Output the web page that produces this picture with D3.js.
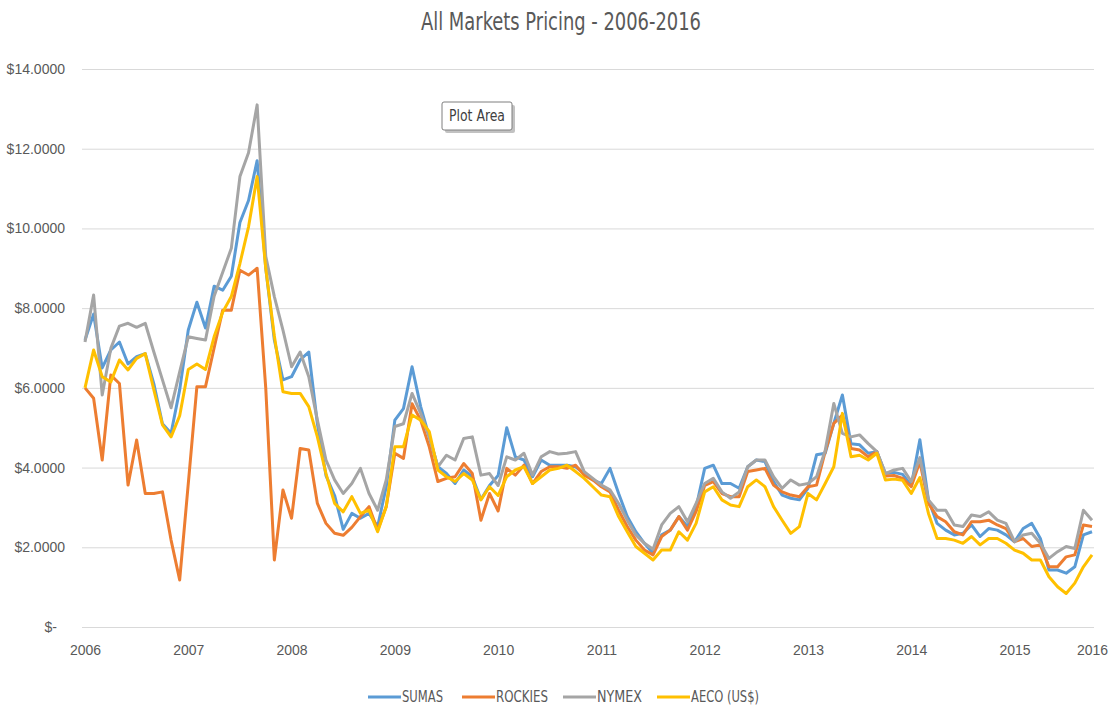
<!DOCTYPE html>
<html>
<head>
<meta charset="utf-8">
<script src="https://cdn.jsdelivr.net/npm/d3@7"></script>
<style>
  body { margin: 0; background: #fff; }
  svg { display: block; font-family: "DejaVu Sans Condensed", "Liberation Sans Narrow", sans-serif; font-stretch: condensed; }
  .grid line { stroke: #d9d9d9; stroke-width: 1; }
  .grid .domain { display: none; }
  .xaxis .domain, .xaxis line { display: none; }
  .tick text { fill: #595959; font-size: 14px; }
</style>
</head>
<body>
<svg id="pricingChart" width="1111" height="711"></svg>
<script>
// monthly prices, Jan 2006 onwards (118 points)
const sumas = [7.2, 7.85, 6.5, 6.95, 7.15, 6.6, 6.78, 6.86, 6.1, 5.1, 4.86, 5.95,
  7.45, 8.15, 7.5, 8.55, 8.45, 8.8, 10.15, 10.7, 11.7, 9.0, 7.2, 6.2,
  6.28, 6.7, 6.9, 5.1, 3.8, 3.3, 2.45, 2.85, 2.73, 2.85, 2.52, 3.52,
  5.19, 5.48, 6.53, 5.53, 4.77, 4.02, 3.85, 3.6, 3.94, 3.77, 3.2, 3.55,
  3.8, 5.0, 4.27, 4.19, 3.77, 4.19, 4.06, 4.06, 4.06, 4.02, 3.85, 3.69,
  3.6, 3.98, 3.35, 2.77, 2.39, 2.1, 1.85, 2.31, 2.43, 2.77, 2.52, 3.0,
  3.98, 4.06, 3.6, 3.6, 3.48, 4.02, 4.19, 4.15, 3.65, 3.31, 3.23, 3.19,
  3.48, 4.32, 4.36, 5.11, 5.82, 4.6, 4.57, 4.36, 4.4, 3.85, 3.88, 3.83,
  3.55, 4.7, 3.19, 2.6, 2.43, 2.31, 2.35, 2.56, 2.27, 2.47, 2.43, 2.31,
  2.14, 2.47, 2.6, 2.22, 1.43, 1.43, 1.35, 1.51, 2.31, 2.39];

const rockies = [6.0, 5.74, 4.19, 6.32, 6.11, 3.56, 4.69, 3.35, 3.35, 3.39, 2.18, 1.18,
  3.6, 6.03, 6.03, 7.0, 7.95, 7.95, 8.95, 8.83, 9.0, 6.0, 1.68, 3.44,
  2.73, 4.48, 4.44, 3.1, 2.6, 2.35, 2.3, 2.5, 2.77, 3.02, 2.43, 3.02,
  4.36, 4.23, 5.6, 5.19, 4.52, 3.65, 3.73, 3.77, 4.1, 3.85, 2.68, 3.35,
  2.91, 3.98, 3.81, 4.06, 3.6, 3.9, 4.02, 4.02, 3.98, 4.06, 3.81, 3.69,
  3.52, 3.39, 2.93, 2.52, 2.18, 1.93, 1.81, 2.27, 2.43, 2.77, 2.43, 2.9,
  3.55, 3.65, 3.35, 3.27, 3.27, 3.9, 3.94, 3.98, 3.56, 3.39, 3.31, 3.27,
  3.52, 3.56, 4.4, 5.11, 5.32, 4.48, 4.44, 4.27, 4.4, 3.79, 3.8, 3.73,
  3.52, 4.15, 3.1, 2.77, 2.64, 2.39, 2.31, 2.64, 2.64, 2.68, 2.56, 2.47,
  2.14, 2.22, 2.02, 2.06, 1.51, 1.51, 1.76, 1.81, 2.56, 2.52];

const nymex = [7.15, 8.33, 5.82, 6.99, 7.55, 7.62, 7.52, 7.62, 6.9, 6.2, 5.5, 6.4,
  7.28, 7.24, 7.2, 8.3, 8.9, 9.5, 11.3, 11.9, 13.1, 9.3, 8.29, 7.45,
  6.53, 6.9, 6.28, 5.19, 4.19, 3.69, 3.35, 3.6, 3.98, 3.35, 2.93, 3.69,
  5.03, 5.1, 5.86, 5.36, 4.77, 4.02, 4.31, 4.19, 4.73, 4.77, 3.81, 3.85,
  3.55, 4.27, 4.19, 4.36, 3.81, 4.27, 4.4, 4.34, 4.36, 4.4, 3.9, 3.73,
  3.56, 3.44, 3.1, 2.68, 2.31, 2.1, 1.95, 2.56, 2.85, 3.02, 2.64, 3.1,
  3.6, 3.73, 3.39, 3.23, 3.39, 4.02, 4.19, 4.19, 3.77, 3.48, 3.69, 3.56,
  3.6, 3.77, 4.43, 5.61, 4.86, 4.77, 4.82, 4.6, 4.4, 3.85, 3.94, 3.98,
  3.65, 4.25, 3.19, 2.93, 2.93, 2.56, 2.52, 2.81, 2.77, 2.89, 2.68, 2.6,
  2.14, 2.31, 2.35, 2.1, 1.72, 1.89, 2.02, 1.97, 2.93, 2.68];

const aeco = [6.0, 6.95, 6.28, 6.15, 6.7, 6.45, 6.74, 6.86, 5.95, 5.07, 4.77, 5.3,
  6.46, 6.6, 6.46, 7.28, 7.9, 8.29, 9.12, 10.04, 11.3, 9.0, 7.3, 5.9,
  5.86, 5.86, 5.53, 4.77, 3.85, 3.1, 2.89, 3.27, 2.85, 2.93, 2.39, 3.02,
  4.52, 4.52, 5.32, 5.19, 4.9, 3.94, 3.77, 3.65, 3.85, 3.69, 3.19, 3.52,
  3.3, 3.77, 3.94, 4.02, 3.6, 3.77, 3.94, 3.98, 4.06, 3.9, 3.73, 3.52,
  3.31, 3.27, 2.77, 2.39, 2.02, 1.85, 1.68, 1.93, 1.93, 2.39, 2.18, 2.6,
  3.39, 3.52, 3.19, 3.06, 3.02, 3.52, 3.69, 3.52, 3.02, 2.68, 2.35, 2.52,
  3.35, 3.19, 3.6, 4.02, 5.36, 4.27, 4.31, 4.19, 4.36, 3.69, 3.71, 3.68,
  3.35, 3.75, 2.85, 2.22, 2.22, 2.18, 2.1, 2.27, 2.06, 2.22, 2.22, 2.1,
  1.93, 1.85, 1.68, 1.68, 1.26, 1.01, 0.84, 1.1, 1.51, 1.81];

const seriesNames = ["SUMAS", "ROCKIES", "NYMEX", "AECO (US$)"];
const seriesColors = ["#5b9bd5", "#ed7d31", "#a5a5a5", "#ffc000"];
const yearLabels = ["2006", "2007", "2008", "2009", "2010", "2011", "2012", "2013", "2014", "2015", "2016"];
const yearTickIdx = [0, 12, 24, 36, 48, 60, 72, 84, 96, 108, 117];
const yTicks = [0, 2, 4, 6, 8, 10, 12, 14];

document.addEventListener("DOMContentLoaded", () => {
    const svg = d3.select("#pricingChart");
    const allSeries = [sumas, rockies, nymex, aeco];

    const x = d3.scaleLinear().domain([0, sumas.length - 1]).range([85, 1092]);
    const y = d3.scaleLinear().domain([0, 14]).range([627, 69]);

    // gridlines + y labels
    const yAxis = svg.append("g")
        .attr("class", "grid")
        .attr("transform", "translate(82,0)")
        .call(d3.axisLeft(y)
            .tickValues(yTicks)
            .tickSize(-1012)
            .tickPadding(17)
            .tickFormat(d => d === 0 ? "$-" : "$" + d.toFixed(4)));
    yAxis.selectAll(".tick text").filter(d => d === 0).attr("dx", "-8");

    // x labels
    svg.append("g")
        .attr("class", "xaxis")
        .attr("transform", "translate(0,636)")
        .call(d3.axisBottom(x)
            .tickValues(yearTickIdx)
            .tickSize(0)
            .tickPadding(9)
            .tickFormat((d, i) => yearLabels[i]));

    // lines
    const line = d3.line()
        .x((d, i) => x(i))
        .y(d => y(d));

    svg.append("g")
        .selectAll("path")
        .data(allSeries)
        .enter()
        .append("path")
        .attr("d", line)
        .attr("fill", "none")
        .attr("stroke", (d, i) => seriesColors[i])
        .attr("stroke-width", 3)
        .attr("stroke-linejoin", "round");

    // title
    svg.append("text")
        .attr("x", 561)
        .attr("y", 30)
        .attr("text-anchor", "middle")
        .attr("textLength", 280)
        .attr("lengthAdjust", "spacingAndGlyphs")
        .style("fill", "#595959")
        .style("font-size", "24px")
        .text("All Markets Pricing - 2006-2016");

    // legend
    const legendX = [368, 462, 563, 657];
    const legendW = [41, 52, 45, 68];
    const legend = svg.append("g")
        .selectAll("g")
        .data(seriesNames)
        .enter()
        .append("g")
        .attr("transform", (d, i) => `translate(${legendX[i]},697)`);
    legend.append("line")
        .attr("x1", 0).attr("x2", 33)
        .attr("stroke", (d, i) => seriesColors[i])
        .attr("stroke-width", 3);
    legend.append("text")
        .attr("x", 34)
        .attr("dy", "0.35em")
        .attr("textLength", (d, i) => legendW[i])
        .attr("lengthAdjust", "spacingAndGlyphs")
        .style("fill", "#595959")
        .style("font-size", "15px")
        .text(d => d);

    // "Plot Area" hover tip
    const tip = svg.append("g").attr("transform", "translate(442,102)");
    tip.append("rect")
        .attr("x", 3).attr("y", 3)
        .attr("width", 70).attr("height", 28)
        .attr("rx", 2)
        .attr("fill", "#9a9a9a")
        .attr("opacity", 0.6);
    tip.append("rect")
        .attr("width", 70).attr("height", 28)
        .attr("rx", 2)
        .attr("fill", "#fff")
        .attr("stroke", "#7f7f7f");
    tip.append("text")
        .attr("x", 35).attr("y", 14)
        .attr("dy", "0.35em")
        .attr("text-anchor", "middle")
        .attr("textLength", 56)
        .attr("lengthAdjust", "spacingAndGlyphs")
        .style("fill", "#404040")
        .style("font-size", "15px")
        .text("Plot Area");
});
</script>
</body>
</html>
